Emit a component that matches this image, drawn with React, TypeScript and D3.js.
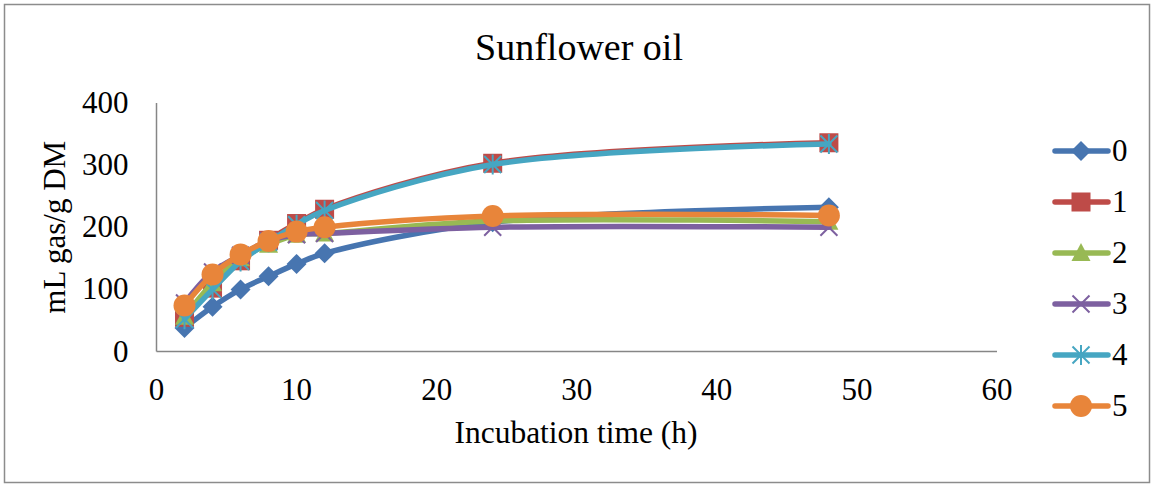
import { useEffect, useRef } from "react";
import * as d3 from "d3";

const hours = [2, 4, 6, 8, 10, 12, 24, 48];
const seriesNames = ["0", "1", "2", "3", "4", "5"];
const values0 = [38, 72, 100, 121, 141, 158, 208, 232];
const values1 = [55, 102, 146, 179, 206, 229, 303, 336];
const values2 = [56, 110, 150, 172, 188, 190, 210, 209];
const values3 = [78, 128, 155, 178, 188, 190, 200, 200];
const values4 = [52, 100, 145, 176, 204, 227, 301, 334];
const values5 = [74, 124, 156, 178, 193, 200, 218, 219];
const allValues = [values0, values1, values2, values3, values4, values5];
const xTicks = [0, 10, 20, 30, 40, 50, 60];
const yTicks = [0, 100, 200, 300, 400];

const colors = ["#4775B0", "#BE4B48", "#98B954", "#7D60A0", "#46A6C2", "#E8853A"];
const markers = ["diamond", "square", "triangle", "x", "star", "circle"];

const W = 1154;
const H = 485;
const font = "'Liberation Serif', 'Times New Roman', serif";

// draws one marker glyph centred at (0,0) into a group
function drawMarker(g: d3.Selection<SVGGElement, unknown, null, undefined>, kind: string, color: string) {
  if (kind === "diamond") {
    g.append("path").attr("d", "M0,-10L10,0L0,10L-10,0Z").attr("fill", color);
  } else if (kind === "square") {
    g.append("rect").attr("x", -9.5).attr("y", -9.5).attr("width", 19).attr("height", 19).attr("fill", color);
  } else if (kind === "triangle") {
    g.append("path").attr("d", "M0,-10L9.5,8L-9.5,8Z").attr("fill", color);
  } else if (kind === "x") {
    g.append("path").attr("d", "M-8.5,-8.5L8.5,8.5M-8.5,8.5L8.5,-8.5").attr("stroke", color).attr("stroke-width", 2).attr("fill", "none");
  } else if (kind === "star") {
    g.append("path")
      .attr("d", "M-8.5,-8.5L8.5,8.5M-8.5,8.5L8.5,-8.5M0,-10L0,10")
      .attr("stroke", color)
      .attr("stroke-width", 2)
      .attr("fill", "none");
  } else {
    g.append("circle").attr("r", 11).attr("fill", color);
  }
}

export default function App() {
  const ref = useRef<HTMLDivElement>(null);

  useEffect(() => {
    d3.select(ref.current).select("svg").remove();

    const svg = d3
      .select(ref.current)
      .append("svg")
      .attr("width", W)
      .attr("height", H)
      .style("display", "block");

    svg.append("rect").attr("width", W).attr("height", H).attr("fill", "#fff");
    svg
      .append("rect")
      .attr("x", 4.5)
      .attr("y", 4.5)
      .attr("width", 1145)
      .attr("height", 478)
      .attr("fill", "none")
      .attr("stroke", "#8c8c8c")
      .attr("stroke-width", 1.5);

    const x = d3.scaleLinear().domain([0, 60]).range([156.5, 997]);
    const y = d3.scaleLinear().domain([0, 400]).range([351.5, 103]);

    // axes
    const axisColor = "#868686";
    svg
      .append("line")
      .attr("x1", x(0))
      .attr("x2", x(0))
      .attr("y1", y(400))
      .attr("y2", y(0))
      .attr("stroke", axisColor)
      .attr("stroke-width", 1.5);
    svg
      .append("line")
      .attr("x1", x(0))
      .attr("x2", x(60))
      .attr("y1", y(0))
      .attr("y2", y(0))
      .attr("stroke", axisColor)
      .attr("stroke-width", 1.5);

    svg
      .append("g")
      .selectAll("text")
      .data(yTicks)
      .enter()
      .append("text")
      .attr("x", x(0) - 28)
      .attr("y", (d) => y(d) + 10)
      .attr("text-anchor", "end")
      .attr("font-family", font)
      .attr("font-size", 31)
      .text((d) => d);

    svg
      .append("g")
      .selectAll("text")
      .data(xTicks)
      .enter()
      .append("text")
      .attr("x", (d) => x(d))
      .attr("y", 400)
      .attr("text-anchor", "middle")
      .attr("font-family", font)
      .attr("font-size", 31)
      .text((d) => d);

    // titles
    svg
      .append("text")
      .attr("x", 579)
      .attr("y", 60)
      .attr("text-anchor", "middle")
      .attr("font-family", font)
      .attr("font-size", 38)
      .text("Sunflower oil");
    svg
      .append("text")
      .attr("x", 576)
      .attr("y", 443)
      .attr("text-anchor", "middle")
      .attr("font-family", font)
      .attr("font-size", 31.5)
      .text("Incubation time (h)");
    svg
      .append("text")
      .attr("transform", `translate(65, ${(y(0) + y(400)) / 2}) rotate(-90)`)
      .attr("text-anchor", "middle")
      .attr("font-family", font)
      .attr("font-size", 31)
      .text("mL gas/g DM");

    // series
    const line = d3
      .line<number>()
      .x((_, i) => x(hours[i]))
      .y((d) => y(d))
      .curve(d3.curveCatmullRom.alpha(0.5));

    allValues.forEach((vals, si) => {
      const g = svg.append("g");
      g.append("path")
        .attr("d", line(vals) as string)
        .attr("fill", "none")
        .attr("stroke", colors[si])
        .attr("stroke-width", 5.5)
        .attr("stroke-linecap", "round");
      vals.forEach((v, i) => {
        const m = g.append("g").attr("transform", `translate(${x(hours[i])}, ${y(v)})`);
        drawMarker(m, markers[si], colors[si]);
      });
    });

    // legend
    const legend = svg.append("g");
    seriesNames.forEach((name, i) => {
      const ly = 151 + i * 51;
      const item = legend.append("g").attr("transform", `translate(0, ${ly})`);
      item
        .append("line")
        .attr("x1", 1055)
        .attr("x2", 1108)
        .attr("stroke", colors[i])
        .attr("stroke-width", 5.5)
        .attr("stroke-linecap", "round");
      const m = item.append("g").attr("transform", "translate(1081, 0)");
      drawMarker(m, markers[i], colors[i]);
      item
        .append("text")
        .attr("x", 1112)
        .attr("y", 10)
        .attr("font-family", font)
        .attr("font-size", 31)
        .text(name);
    });
  }, []);

  return <div ref={ref} style={{ position: "absolute", left: 0, top: 0 }} />;
}
